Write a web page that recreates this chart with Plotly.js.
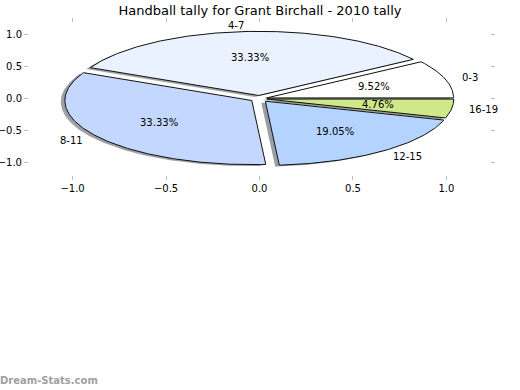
<!DOCTYPE html>
<html>
<head>
<meta charset="utf-8">
<script src="https://cdn.plot.ly/plotly-3.0.1.min.js"></script>
<style>html,body{margin:0;padding:0;background:#fff;}#chart{width:520px;height:390px;}</style>
</head>
<body>
<div id="chart"></div>
<script>
// Data
const categories = ["0-3", "4-7", "8-11", "12-15", "16-19"];
const counts = [2, 7, 7, 4, 1];
const colors = ["#ffffff", "#eaf1ff", "#c4d8ff", "#b4d4ff", "#cfe98a"];
const explode = [0.04, 0.05, 0.05, 0.05, 0.04];
const tickVals = [-1.0, -0.5, 0.0, 0.5, 1.0];
const titleText = "Handball tally for Grant Birchall - 2010 tally";
const watermark = "Dream-Stats.com";

const total = counts.reduce((a, b) => a + b, 0);
const traces = [];
const shadows = [];
const annotations = [];
const R = 1.0, labelDist = 1.1, pctDist = 0.6;
const sox = -0.022, soy = -0.022;

function hexToRgb(h) {
  return [parseInt(h.substr(1,2),16), parseInt(h.substr(3,2),16), parseInt(h.substr(5,2),16)];
}

let theta1 = 0;
counts.forEach((c, i) => {
  const frac = c / total;
  const theta2 = theta1 + frac * 360;
  const thm = Math.PI / 180 * (theta1 + theta2) / 2;
  const cx = explode[i] * Math.cos(thm);
  const cy = explode[i] * Math.sin(thm);
  const xs = [cx], ys = [cy];
  const n = Math.max(8, Math.ceil((theta2 - theta1) * 1.5));
  for (let k = 0; k <= n; k++) {
    const t = Math.PI / 180 * (theta1 + (theta2 - theta1) * k / n);
    xs.push(cx + R * Math.cos(t));
    ys.push(cy + R * Math.sin(t));
  }
  xs.push(cx); ys.push(cy);
  const rgb = hexToRgb(colors[i]);
  shadows.push({
    x: xs.map(v => v + sox), y: ys.map(v => v + soy),
    type: "scatter", mode: "lines", fill: "toself",
    fillcolor: `rgba(${Math.round(rgb[0]*0.3)},${Math.round(rgb[1]*0.3)},${Math.round(rgb[2]*0.3)},0.5)`,
    line: {width: 0, color: "rgba(0,0,0,0)"},
    hoverinfo: "skip", showlegend: false
  });
  traces.push({
    x: xs, y: ys,
    type: "scatter", mode: "lines", fill: "toself",
    fillcolor: colors[i],
    line: {width: 1, color: "#111111"},
    name: categories[i], hoverinfo: "name", showlegend: false
  });
  const lx = cx + labelDist * R * Math.cos(thm);
  const ly = cy + labelDist * R * Math.sin(thm);
  annotations.push({
    x: lx, y: ly, xref: "x", yref: "y", text: categories[i], showarrow: false,
    xanchor: lx > 0 ? "left" : "right", yanchor: "middle",
    xshift: lx > 0 ? -3 : 3,
    font: {family: "DejaVu Sans", size: 10, color: "#000"}
  });
  const px = cx + pctDist * R * Math.cos(thm);
  const py = cy + pctDist * R * Math.sin(thm);
  annotations.push({
    x: px, y: py, xref: "x", yref: "y", text: (frac * 100).toFixed(2) + "%", showarrow: false,
    xanchor: "center", yanchor: "middle",
    font: {family: "DejaVu Sans", size: 10, color: "#000"}
  });
  theta1 = theta2;
});

annotations.push({
  x: -31 / 461, y: -(380 - 175) / 152, xref: "paper", yref: "paper",
  text: watermark, showarrow: false, xanchor: "left", yanchor: "middle",
  font: {family: "DejaVu Sans", size: 10, color: "#a0a0a0", weight: "bold"}
});

const axisCommon = {
  showgrid: false, zeroline: false, showline: false,
  ticks: "outside", ticklen: 4, tickwidth: 1, tickcolor: "#bbbbbb",
  mirror: "ticks", tickvals: tickVals, tickformat: ".1f",
  tickfont: {family: "DejaVu Sans", size: 10, color: "#000"},
  fixedrange: true
};

const layout = {
  width: 520, height: 390,
  margin: {l: 29, r: 30, t: 23, b: 215},
  paper_bgcolor: "#fff", plot_bgcolor: "#fff",
  title: {text: titleText, x: 0.5, xref: "container", y: 1 - 10.5/390, yref: "container",
          xanchor: "center", yanchor: "middle",
          font: {family: "DejaVu Sans", size: 13, color: "#000"}},
  xaxis: Object.assign({}, axisCommon, {range: [-1.233, 1.233]}),
  yaxis: Object.assign({}, axisCommon, {range: [-1.19, 1.18], ticklabelstandoff: 0}),
  annotations: annotations,
  showlegend: false
};

Plotly.newPlot("chart", shadows.concat(traces), layout, {displayModeBar: false, staticPlot: true});
</script>
</body>
</html>
